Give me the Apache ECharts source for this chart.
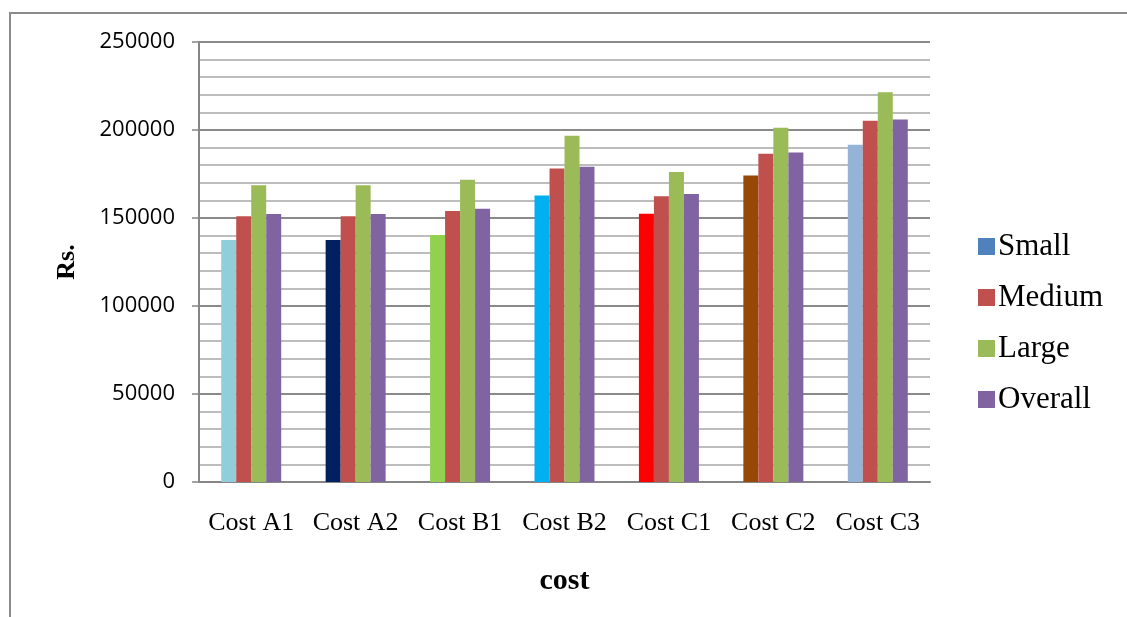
<!DOCTYPE html>
<html>
<head>
<meta charset="utf-8">
<script src="https://cdn.jsdelivr.net/npm/echarts@6/dist/echarts.min.js"></script>
<style>
  html, body { margin: 0; padding: 0; background: #fff; }
  #chart { width: 1127px; height: 617px; }
</style>
</head>
<body>
<div id="chart"></div>
<script>
// Cost categories on the x axis
const categories = ['Cost A1', 'Cost A2', 'Cost B1', 'Cost B2', 'Cost C1', 'Cost C2', 'Cost C3'];

// Cost in Rs. per farm size group
const small   = [137500, 137500, 140400, 162800, 152400, 174100, 191600];
const medium  = [151000, 151000, 154000, 178100, 162400, 186500, 205200];
const large   = [168600, 168600, 171700, 196700, 176200, 201300, 221500];
const overall = [152300, 152300, 155200, 179100, 163700, 187200, 206000];

// The "Small" bars are coloured individually per cost category
const smallColors = ['#92CDDC', '#002060', '#92D050', '#00B0F0', '#FF0000', '#974706', '#95B3D7'];

const yTicks = { min: 0, max: 250000, interval: 50000 };

const chart = echarts.init(document.getElementById('chart'), null, { renderer: 'canvas' });

const serifFont = '"Liberation Serif", "Times New Roman", serif';
const barW = 15;

function barSeries(name, values, color, perItemColors) {
  return {
    name: name,
    type: 'bar',
    barWidth: barW,
    barGap: '0%',
    itemStyle: { color: color },
    data: values.map((v, i) => perItemColors
      ? { value: v, itemStyle: { color: perItemColors[i] } }
      : v),
    emphasis: { disabled: true }
  };
}

chart.setOption({
  animation: false,
  backgroundColor: '#ffffff',
  graphic: [{
    type: 'rect',
    silent: true,
    shape: { x: 10, y: 13, width: 1200, height: 700 },
    style: { fill: 'none', stroke: '#8c8c8c', lineWidth: 2 },
    z: -10
  }],
  grid: { left: 199, right: 197, top: 42, bottom: 135, containLabel: false },
  legend: {
    orient: 'vertical',
    left: 973,
    top: 226,
    itemWidth: 17,
    itemHeight: 17,
    itemGap: 20,
    icon: 'rect',
    selectedMode: false,
    textStyle: { fontFamily: serifFont, fontSize: 31, color: '#000', lineHeight: 31, padding: [0, 0, 0, -2] },
    data: [
      { name: 'Small', itemStyle: { color: '#4F81BD' } },
      'Medium', 'Large', 'Overall'
    ]
  },
  xAxis: {
    type: 'category',
    data: categories,
    name: 'cost',
    nameLocation: 'middle',
    nameGap: 84,
    nameTextStyle: { fontFamily: serifFont, fontSize: 30, fontWeight: 'bold', color: '#000' },
    axisLine: { lineStyle: { color: '#868686', width: 2 } },
    axisTick: { show: false },
    axisLabel: { interval: 0, fontFamily: serifFont, fontSize: 26, color: '#000', margin: 28 }
  },
  yAxis: {
    type: 'value',
    min: yTicks.min,
    max: yTicks.max,
    interval: yTicks.interval,
    name: 'Rs.',
    nameLocation: 'middle',
    nameGap: 119,
    nameRotate: 90,
    nameTextStyle: { fontFamily: serifFont, fontSize: 26, fontWeight: 'bold', color: '#000' },
    axisLine: { show: true, lineStyle: { color: '#868686', width: 2 } },
    axisTick: { show: true, length: 7, lineStyle: { color: '#868686', width: 1.5 } },
    axisLabel: {
      fontFamily: '"Open Sans", sans-serif', fontSize: 22, color: '#000', margin: 24,
      formatter: v => String(v)
    },
    splitLine: { show: true, lineStyle: { color: '#8a8a8a', width: 2 } },
    minorTick: { show: false, splitNumber: 5 },
    minorSplitLine: { show: true, lineStyle: { color: '#bdbdbd', width: 2 } }
  },
  series: [
    barSeries('Small', small, '#4F81BD', smallColors),
    barSeries('Medium', medium, '#C0504D'),
    barSeries('Large', large, '#9BBB59'),
    barSeries('Overall', overall, '#8064A2')
  ]
});
</script>
</body>
</html>
